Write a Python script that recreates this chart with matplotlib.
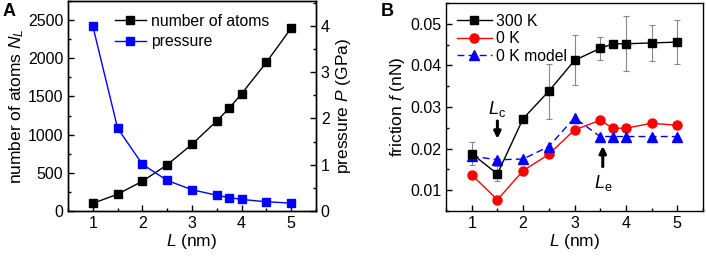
import matplotlib
matplotlib.use("Agg")
import matplotlib.pyplot as plt
from matplotlib.ticker import MultipleLocator

plt.rcParams['font.family'] = ['Liberation Sans', 'DejaVu Sans']
plt.rcParams['mathtext.fontset'] = 'custom'
plt.rcParams['mathtext.rm'] = 'Liberation Sans'
plt.rcParams['mathtext.it'] = 'Liberation Sans:italic'
plt.rcParams['font.size'] = 11.5

# Panel A data
L_a = [1, 1.5, 2, 2.5, 3, 3.5, 3.75, 4, 4.5, 5]
atoms = [100, 220, 390, 605, 873, 1180, 1346, 1535, 1947, 2395]
pressure = [4.0, 1.79, 1.01, 0.66, 0.46, 0.34, 0.29, 0.25, 0.20, 0.17]

# Panel B data
L_b = [1, 1.5, 2, 2.5, 3, 3.5, 3.75, 4, 4.5, 5]
f_300K = [0.0188, 0.0139, 0.0272, 0.0338, 0.0412, 0.0441, 0.0452, 0.0452, 0.0454, 0.0456]
f_300K_err = [0.0027, 0.0018, 0.0003, 0.0066, 0.0060, 0.0028, 0.0006, 0.0066, 0.0043, 0.0053]
f_0K = [0.0137, 0.0077, 0.0147, 0.0186, 0.0245, 0.0268, 0.0249, 0.0249, 0.0261, 0.0256]
f_model = [0.0182, 0.0173, 0.0175, 0.0205, 0.0274, 0.0229, 0.0229, 0.0229, 0.0229, 0.0229]

TICK = 11.5
LAB = 12.5
LEG = 11.3

fig = plt.figure(figsize=(7.06, 2.58), dpi=100)

def style(ax):
    ax.tick_params(direction='in', which='both', labelsize=TICK)
    ax.tick_params(which='major', length=4, width=1)
    ax.tick_params(which='minor', length=2, width=1)
    for s in ax.spines.values():
        s.set_linewidth(1.0)

# Panel A
axA = fig.add_axes([68/706, 1-211/258, (316-68)/706, (211-1)/258])
axA2 = axA.twinx()
lA1, = axA.plot(L_a, atoms, '-s', color='black', lw=1, ms=5.5, label='number of atoms')
lA2, = axA2.plot(L_a, pressure, '-s', color='#0000ff', lw=1, ms=5.5, label='pressure')
axA.set_xlim(0.5, 5.5)
axA.set_ylim(0, 2750)
axA2.set_ylim(0, 4.54)
axA.xaxis.set_major_locator(MultipleLocator(1))
axA.xaxis.set_minor_locator(MultipleLocator(0.5))
axA.yaxis.set_major_locator(MultipleLocator(500))
axA.yaxis.set_minor_locator(MultipleLocator(250))
axA2.yaxis.set_major_locator(MultipleLocator(1))
axA2.yaxis.set_minor_locator(MultipleLocator(0.5))
style(axA)
style(axA2)
axA.tick_params(top=False, right=False)
axA2.tick_params(left=False)
axA.set_xlabel('$L$ (nm)', fontsize=LAB, labelpad=1)
axA.set_ylabel('number of atoms $N_L$', fontsize=LAB, labelpad=1)
axA2.set_ylabel('pressure $P$ (GPa)', fontsize=LAB, labelpad=3)
axA.legend(handles=[lA1, lA2], loc='upper left', bbox_to_anchor=(0.15, 0.985),
           frameon=False, fontsize=LEG, handlelength=2.0, handletextpad=0.3,
           labelspacing=0.35, borderaxespad=0.2)
fig.text(3/706, 1-12/258, 'A', fontsize=13, fontweight='bold', va='center')

# Panel B
axB = fig.add_axes([446/706, 1-211/258, (703-446)/706, (211-3)/258])
axB.errorbar(L_b, f_300K, yerr=f_300K_err, fmt='none', ecolor='#888888',
             elinewidth=0.8, capsize=2, capthick=0.8, zorder=1)
axB.plot(L_b, f_300K, '-s', color='black', lw=1, ms=5.5, label='300 K', zorder=3)
axB.plot(L_b, f_0K, '-o', color='#ff0000', lw=1, ms=6.5, label='0 K', zorder=2)
axB.plot(L_b, f_model, '--^', color='#0000ff', lw=1, ms=6.5, label='0 K model',
         dashes=(5, 3), zorder=2)
axB.set_xlim(0.5, 5.5)
axB.set_ylim(0.005, 0.055)
axB.xaxis.set_major_locator(MultipleLocator(1))
axB.xaxis.set_minor_locator(MultipleLocator(0.5))
axB.yaxis.set_major_locator(MultipleLocator(0.01))
axB.yaxis.set_minor_locator(MultipleLocator(0.005))
style(axB)
axB.tick_params(top=False, right=False)
axB.set_xlabel('$L$ (nm)', fontsize=LAB, labelpad=1)
axB.set_ylabel('friction $f$ (nN)', fontsize=LAB, labelpad=2)
axB.legend(loc='upper left', bbox_to_anchor=(0.0, 1.0), frameon=False,
           fontsize=LEG, handlelength=2.2, handletextpad=0.3,
           labelspacing=0.15, borderaxespad=0.3)
axB.annotate('', xy=(1.5, 0.0217), xytext=(1.5, 0.0273),
             arrowprops=dict(arrowstyle='-|>', color='black', lw=2.2,
                             mutation_scale=10))
axB.text(1.5, 0.0295, '$L_\\mathrm{c}$', fontsize=13, ha='center', va='center')
axB.annotate('', xy=(3.55, 0.0213), xytext=(3.55, 0.0150),
             arrowprops=dict(arrowstyle='-|>', color='black', lw=2.2,
                             mutation_scale=10))
axB.text(3.55, 0.0118, '$L_\\mathrm{e}$', fontsize=13, ha='center', va='center')
fig.text(381/706, 1-12/258, 'B', fontsize=13, fontweight='bold', va='center')

fig.savefig('out.png', dpi=100)
